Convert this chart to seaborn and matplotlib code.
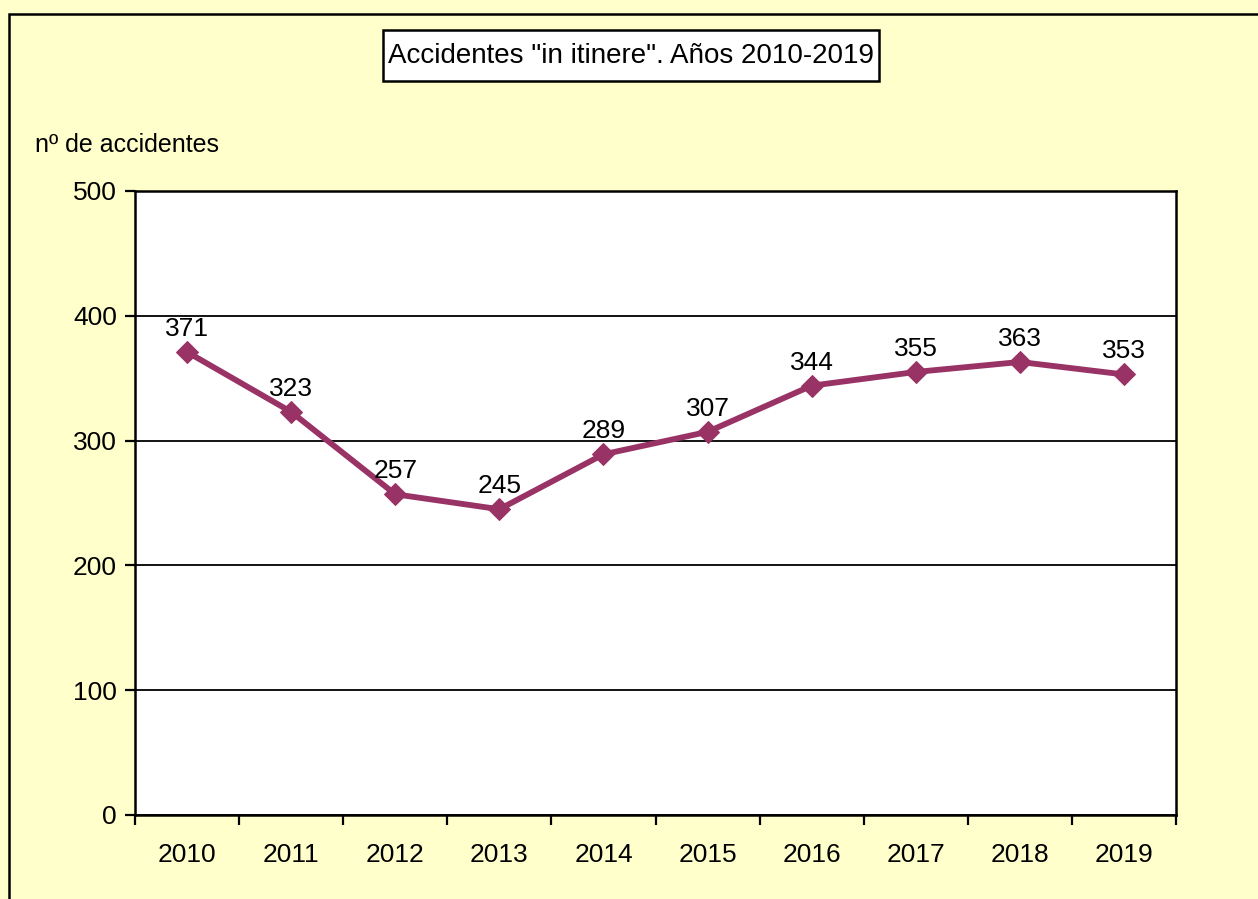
import matplotlib
matplotlib.use("Agg")
import matplotlib.pyplot as plt
import matplotlib.patches as patches
import seaborn as sns
import pandas as pd

years = ["2010", "2011", "2012", "2013", "2014", "2015", "2016", "2017", "2018", "2019"]
accidents = [371, 323, 257, 245, 289, 307, 344, 355, 363, 353]
y_ticks = [0, 100, 200, 300, 400, 500]

sns.set_style("white")
plt.rcParams["font.family"] = ["Liberation Sans", "DejaVu Sans"]
plt.rcParams["text.color"] = "black"
plt.rcParams["xtick.color"] = "black"
plt.rcParams["ytick.color"] = "black"

df = pd.DataFrame({"pos": range(len(years)), "year": years, "n": accidents})

fig = plt.figure(figsize=(12.58, 8.99), dpi=100)
fig.patch.set_facecolor("#FFFFCC")

# outer chart-area border (right/bottom edges run off the image)
fig.patches.append(patches.Rectangle(
    (9 / 1258, -0.1), 1.2, (899 - 14) / 899 + 0.1,
    transform=fig.transFigure, fill=False, edgecolor="black", linewidth=1.8))

# title box
fig.patches.append(patches.Rectangle(
    (383 / 1258, 1 - 81 / 899), 496 / 1258, 51 / 899,
    transform=fig.transFigure, facecolor="white", edgecolor="black", linewidth=1.8))

ax = fig.add_axes([135 / 1258, 1 - 815 / 899, (1176 - 135) / 1258, (815 - 191) / 899])
ax.set_facecolor("white")

sns.lineplot(data=df, x="pos", y="n", ax=ax, color="#993366", linewidth=4.2,
             marker="D", markersize=11, markeredgecolor="#993366")

for _, row in df.iterrows():
    ax.annotate(str(row["n"]), (row["pos"], row["n"]), xytext=(0, 8),
                textcoords="offset points", ha="center", va="bottom", fontsize=19)

ax.set_xlim(-0.5, len(years) - 0.5)
ax.set_ylim(0, 500)
ax.set_yticks(y_ticks)
ax.set_yticklabels([str(v) for v in y_ticks], fontsize=19)
ax.set_xticks([i - 0.5 for i in range(len(years) + 1)])
ax.set_xticklabels([])
ax.set_xticks(range(len(years)), minor=True)
ax.set_xticklabels(years, minor=True, fontsize=19)
ax.tick_params(axis="x", which="major", direction="out", length=7, width=1.6, bottom=True)
ax.tick_params(axis="x", which="minor", length=0, pad=20)
ax.tick_params(axis="y", direction="out", length=7, width=1.6, left=True, pad=6)
ax.set_xlabel("")
ax.set_ylabel("")

ax.yaxis.grid(True, color="black", linewidth=1.3)
ax.xaxis.grid(False)
ax.set_axisbelow(True)
for s in ax.spines.values():
    s.set_visible(True)
    s.set_color("black")
    s.set_linewidth(1.8)

fig.text(631 / 1258, 1 - 56 / 899, 'Accidentes "in itinere". Años 2010-2019',
         ha="center", va="center", fontsize=20)
fig.text(35 / 1258, 1 - 145 / 899, "nº de accidentes", ha="left", va="center", fontsize=18)

fig.savefig("out.png", dpi=100, facecolor=fig.get_facecolor())
